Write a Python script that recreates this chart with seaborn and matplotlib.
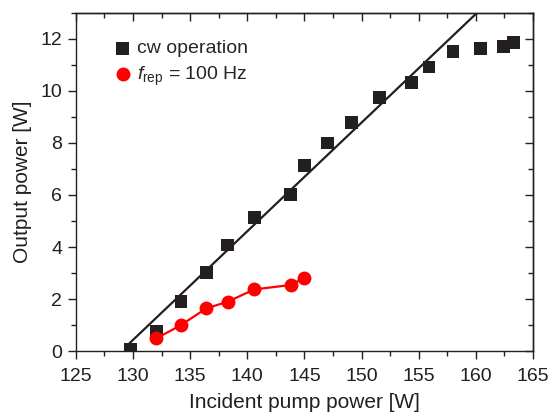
import numpy as np
import pandas as pd
import matplotlib
matplotlib.use("Agg")
import matplotlib.pyplot as plt
import seaborn as sns
from matplotlib.ticker import MultipleLocator

# datos
cw_pump = [129.8, 132.05, 134.2, 136.4, 138.3, 140.6, 143.8, 145.0, 147.0,
           149.1, 151.6, 154.4, 155.9, 158.0, 160.4, 162.4, 163.3]
cw_power = [0.05, 0.74, 1.92, 3.01, 4.08, 5.15, 6.01, 7.12, 8.0,
            8.79, 9.74, 10.32, 10.92, 11.51, 11.62, 11.70, 11.86]

rep_pump = [132.05, 134.2, 136.4, 138.3, 140.6, 143.8, 145.0]
rep_power = [0.49, 1.0, 1.64, 1.90, 2.37, 2.54, 2.82]

# ajuste lineal (pendiente y umbral)
slope = 0.4176
threshold = 128.97
fit_start = 129.45

df_cw = pd.DataFrame({"pump": cw_pump, "power": cw_power})
df_rep = pd.DataFrame({"pump": rep_pump, "power": rep_power})

sns.set_style("ticks")
plt.rcParams["font.family"] = ["Liberation Sans", "DejaVu Sans"]
plt.rcParams["mathtext.fontset"] = "custom"
plt.rcParams["mathtext.it"] = "Liberation Sans:italic"
plt.rcParams["mathtext.rm"] = "Liberation Sans"

ink = "#231f20"

fig, ax = plt.subplots(figsize=(5.5, 4.15), dpi=100)

# recta de ajuste
fit_x = np.linspace(fit_start, threshold + 13.0 / slope, 50)
ax.plot(fit_x, slope * (fit_x - threshold), color=ink, lw=1.6, zorder=2)

sns.scatterplot(data=df_cw, x="pump", y="power", marker="s", s=85,
                color=ink, edgecolor="none", ax=ax, zorder=3,
                label="cw operation")
sns.lineplot(data=df_rep, x="pump", y="power", marker="o", markersize=10,
             color="#ff0000", markeredgecolor="none", lw=1.6, ax=ax, zorder=4,
             label=r"$f_{\mathrm{rep}}$ = 100 Hz")

ax.set_xlim(125, 165)
ax.set_ylim(0, 13)
ax.xaxis.set_major_locator(MultipleLocator(5))
ax.xaxis.set_minor_locator(MultipleLocator(2.5))
ax.yaxis.set_major_locator(MultipleLocator(2))
ax.yaxis.set_minor_locator(MultipleLocator(1))
ax.tick_params(which="both", direction="out", labelsize=14,
               color=ink, labelcolor=ink, width=1.0)
ax.tick_params(which="major", length=6)
ax.tick_params(which="minor", length=3.5)
ax.tick_params(axis="x", which="major", pad=6)
ax.tick_params(axis="y", which="major", pad=4)

# ticks hacia adentro arriba y a la derecha
top = ax.secondary_xaxis("top")
top.xaxis.set_major_locator(MultipleLocator(5))
top.xaxis.set_minor_locator(MultipleLocator(2.5))
top.tick_params(which="both", direction="in", labeltop=False, color=ink, width=1.0)
top.tick_params(which="major", length=6)
top.tick_params(which="minor", length=3.5)
right = ax.secondary_yaxis("right")
right.yaxis.set_major_locator(MultipleLocator(2))
right.yaxis.set_minor_locator(MultipleLocator(1))
right.tick_params(which="both", direction="in", labelright=False, color=ink, width=1.0)
right.tick_params(which="major", length=6)
right.tick_params(which="minor", length=3.5)

for a in (ax, top, right):
    for sp in a.spines.values():
        sp.set_linewidth(1.0)
        sp.set_color(ink)

ax.set_xlabel("Incident pump power [W]", fontsize=15, color=ink, labelpad=6)
ax.set_ylabel("Output power [W]", fontsize=15, color=ink, labelpad=6)

leg = ax.legend(loc="upper left", bbox_to_anchor=(0.06, 0.955), frameon=False,
                fontsize=14, handlelength=0.8, handletextpad=0.35,
                borderaxespad=0.2, labelspacing=0.4)
for h in leg.legend_handles:
    try:
        h.set_linestyle("none")
    except Exception:
        pass

plt.subplots_adjust(left=0.138, right=0.969, top=0.969, bottom=0.154)
fig.savefig("out.png", dpi=100)
